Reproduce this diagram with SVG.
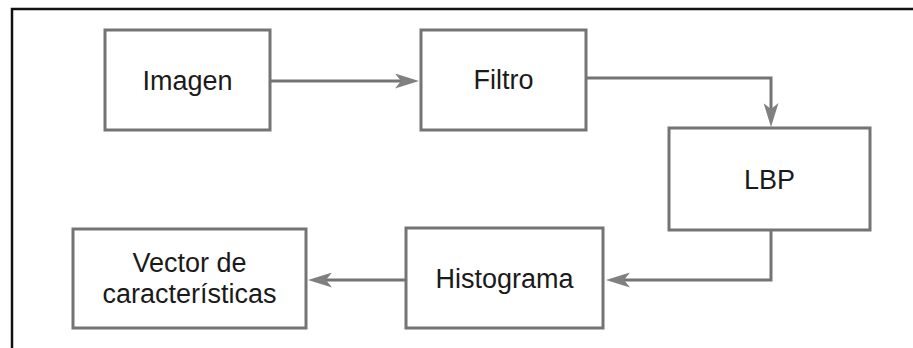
<svg xmlns="http://www.w3.org/2000/svg" width="913" height="348" viewBox="0 0 913 348">
<style>
.box{fill:#fff;stroke:#747474;stroke-width:3}
.lbl{font-family:"Liberation Sans",Arial,sans-serif;font-size:27px;fill:#1a1a1a;text-anchor:middle}
.edge{fill:none;stroke:#747474;stroke-width:3}
</style>
<defs>
<marker id="arr" viewBox="0 0 24 15" refX="6" refY="7.5" markerWidth="24" markerHeight="15" markerUnits="userSpaceOnUse" orient="auto">
<path d="M0,0 L24,7.5 L0,15 L6,7.5 Z" fill="#808080"/>
</marker>
</defs>
<rect x="0" y="0" width="913" height="348" fill="#fff"/>
<path d="M12,348 V9 H913" fill="none" stroke="#111" stroke-width="2.5"/>
<g id="connectors">
<path class="edge" d="M270,81 H401" marker-end="url(#arr)"/>
<path class="edge" d="M586,78 H771 V109" marker-end="url(#arr)"/>
<path class="edge" d="M771,230 V280 H624" marker-end="url(#arr)"/>
<path class="edge" d="M406,280 H326" marker-end="url(#arr)"/>
</g>
<g id="imagen">
<rect class="box" x="105" y="30" width="165" height="100"/>
<text class="lbl" x="187.5" y="90">Imagen</text>
</g>
<g id="filtro">
<rect class="box" x="421" y="30" width="165" height="100"/>
<text class="lbl" x="503.5" y="89">Filtro</text>
</g>
<g id="lbp">
<rect class="box" x="669" y="128" width="201" height="102"/>
<text class="lbl" x="769.5" y="189">LBP</text>
</g>
<g id="histograma">
<rect class="box" x="406" y="228" width="197" height="100"/>
<text class="lbl" x="504.5" y="288">Histograma</text>
</g>
<g id="vector">
<rect class="box" x="73" y="229" width="233" height="99"/>
<text class="lbl" x="189.5" y="272">Vector de</text>
<text class="lbl" x="189.5" y="303">características</text>
</g>
</svg>
